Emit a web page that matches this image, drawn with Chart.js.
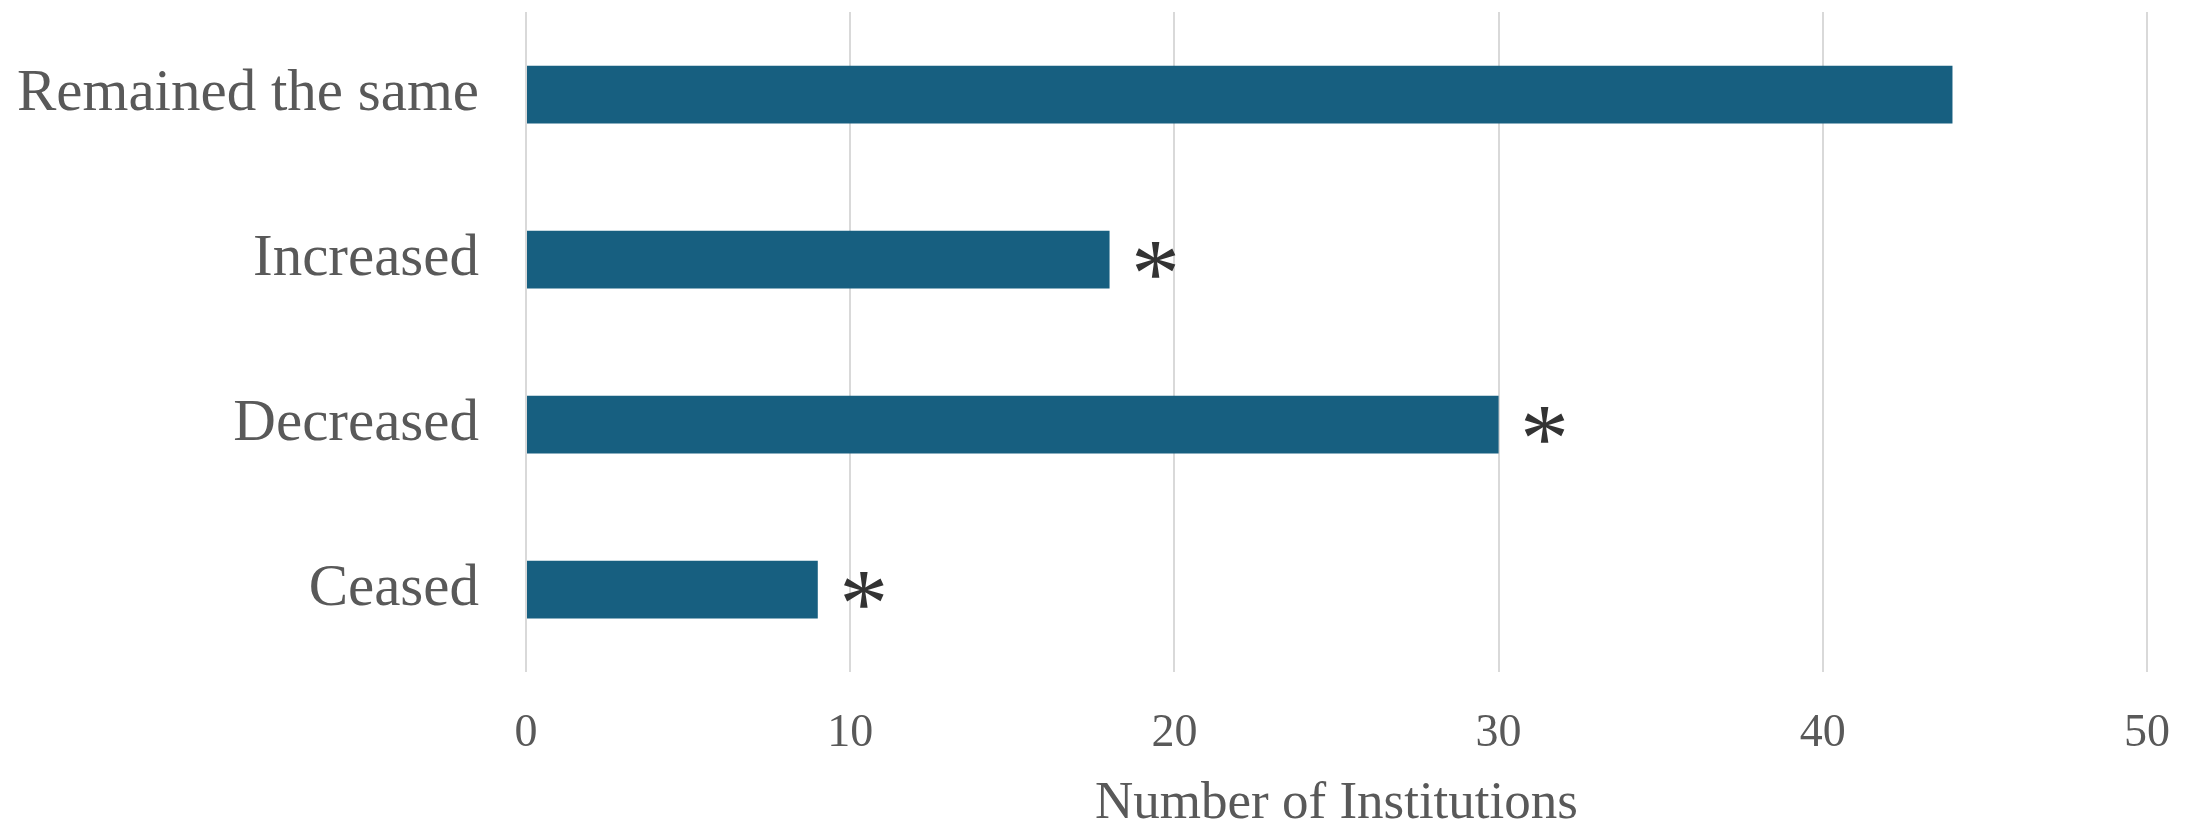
<!DOCTYPE html>
<html>
<head>
<meta charset="utf-8">
<script src="https://cdn.jsdelivr.net/npm/chart.js@4/dist/chart.umd.min.js"></script>
<style>
  html, body { margin: 0; padding: 0; background: #ffffff; }
  #wrap { width: 2195px; height: 824px; position: relative; }
</style>
</head>
<body>
<div id="wrap"><canvas id="c" width="2195" height="824"></canvas></div>
<script>
// ---- data ----
const categories = ['Remained the same', 'Increased', 'Decreased', 'Ceased'];
const institutions = [44, 18, 30, 9];
const significance = ['', '*', '*', '*'];
const xTickValues = [0, 10, 20, 30, 40, 50];
const xAxisTitle = 'Number of Institutions';

// ---- styles ----
const BAR_COLOR = '#175f80';
const TEXT_COLOR = '#595959';
const GRID_COLOR = '#d9d9d9';
const SERIF = '"Liberation Serif", "DejaVu Serif", serif';

const asteriskPlugin = {
  id: 'asterisks',
  afterDatasetsDraw(chart) {
    const meta = chart.getDatasetMeta(0);
    const ctx = chart.ctx;
    ctx.save();
    ctx.fillStyle = '#333333';
    ctx.font = '98px ' + SERIF;
    ctx.textAlign = 'center';
    ctx.textBaseline = 'alphabetic';
    meta.data.forEach((bar, i) => {
      const s = significance[i];
      if (!s) return;
      const m = ctx.measureText(s);
      const asc = m.actualBoundingBoxAscent, desc = m.actualBoundingBoxDescent;
      const cy = bar.y + 0.5;
      const baseline = cy + (asc - desc) / 2;
      ctx.fillText(s, bar.x + 46, baseline);
    });
    ctx.restore();
  }
};

new Chart(document.getElementById('c'), {
  type: 'bar',
  data: {
    labels: categories,
    datasets: [{
      data: institutions,
      backgroundColor: BAR_COLOR,
      borderWidth: 0,
      barPercentage: 0.7,
      categoryPercentage: 0.5
    }]
  },
  options: {
    indexAxis: 'y',
    responsive: false,
    animation: false,
    devicePixelRatio: 1,
    layout: { padding: { top: 12, right: 48, bottom: 0, left: 0 } },
    plugins: { legend: { display: false }, tooltip: { enabled: false } },
    scales: {
      x: {
        min: 0,
        max: 50,
        afterBuildTicks(scale) { scale.ticks = xTickValues.map(v => ({ value: v })); },
        afterFit(scale) { scale.height = 152; scale.paddingLeft = 0; scale.paddingRight = 0; },
        ticks: { font: { family: SERIF, size: 46 }, color: TEXT_COLOR, padding: 34 },
        grid: { color: GRID_COLOR, lineWidth: 2, drawTicks: false },
        border: { display: false },
        title: {
          display: true,
          text: xAxisTitle,
          font: { family: SERIF, size: 53, lineHeight: 0.75 },
          color: TEXT_COLOR,
          padding: { top: 0, bottom: 0 }
        }
      },
      y: {
        afterFit(scale) { scale.width = 526; scale.paddingTop = 0; scale.paddingBottom = 0; },
        ticks: { font: { family: SERIF, size: 59 }, color: TEXT_COLOR, padding: 47 },
        grid: { display: false, drawTicks: false },
        border: { display: false }
      }
    }
  },
  plugins: [asteriskPlugin]
});
</script>
</body>
</html>
